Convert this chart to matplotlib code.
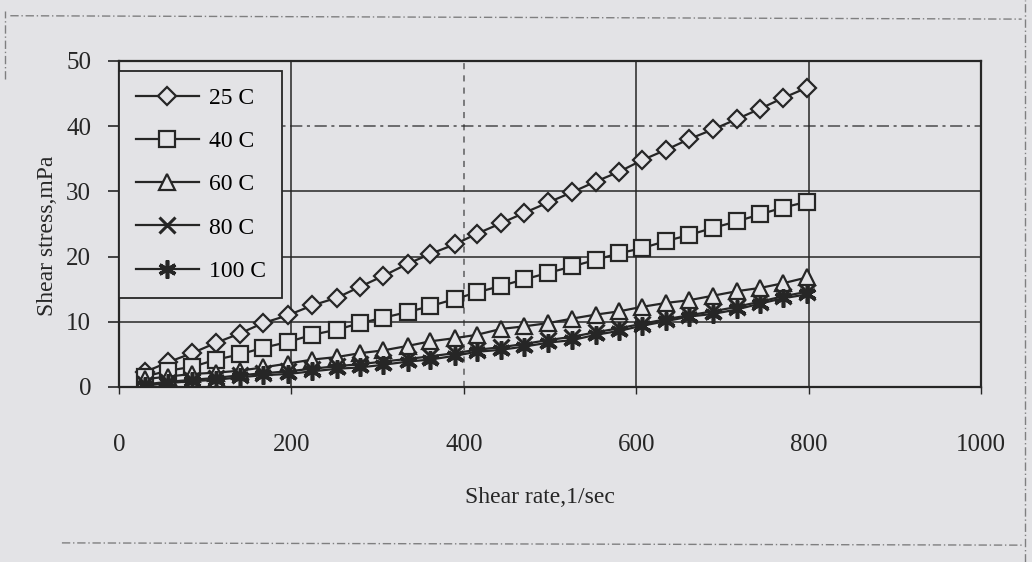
import matplotlib.pyplot as plt
from matplotlib.lines import Line2D

# values
shear_rate = [30, 57, 85, 113, 140, 167, 196, 224, 253, 280, 306, 335, 361, 390, 415,
              443, 470, 498, 526, 553, 580, 607, 635, 661, 689, 717, 744, 770, 798]
stress_25 = [2.3, 3.8, 5.2, 6.8, 8.2, 9.8, 11.0, 12.5, 13.7, 15.4, 17.0, 18.9, 20.4, 21.9, 23.5,
             25.1, 26.7, 28.3, 29.9, 31.5, 33.0, 34.8, 36.4, 38.0, 39.5, 41.1, 42.7, 44.3, 45.9]
stress_40 = [1.6, 2.5, 3.1, 4.2, 5.0, 6.0, 6.9, 8.0, 8.8, 9.8, 10.6, 11.5, 12.4, 13.5, 14.5,
             15.5, 16.5, 17.5, 18.5, 19.5, 20.5, 21.3, 22.4, 23.3, 24.4, 25.4, 26.5, 27.5, 28.4]
stress_60 = [1.2, 1.6, 2.0, 2.2, 2.5, 3.0, 3.6, 4.2, 4.6, 5.2, 5.6, 6.3, 7.0, 7.5, 8.0,
             8.9, 9.3, 9.8, 10.5, 11.1, 11.6, 12.3, 12.9, 13.3, 14.0, 14.7, 15.2, 15.9, 16.8]
stress_80 = [0.4, 0.8, 1.1, 1.4, 1.8, 2.1, 2.4, 2.8, 3.2, 3.5, 3.9, 4.3, 4.7, 5.2, 5.7,
             6.1, 6.6, 7.2, 7.7, 8.4, 9.0, 9.7, 10.4, 11.0, 11.6, 12.3, 13.1, 13.9, 14.6]
stress_100 = [0.2, 0.6, 0.9, 1.1, 1.5, 1.8, 2.0, 2.4, 2.8, 3.0, 3.4, 3.9, 4.2, 4.8, 5.4,
              5.7, 6.2, 6.8, 7.2, 8.0, 8.6, 9.4, 10.1, 10.8, 11.2, 11.9, 12.8, 13.6, 14.2]
labels = ['25 C', '40 C', '60 C', '80 C', '100 C']
x_ticks = [0, 200, 400, 600, 800, 1000]
y_ticks = [0, 10, 20, 30, 40, 50]

paper = '#e3e3e6'
ink = '#262626'

plt.rcParams['font.family'] = ['Liberation Serif', 'DejaVu Serif']

fig = plt.figure(figsize=(10.32, 5.62), dpi=100)
fig.set_facecolor(paper)
ax = fig.add_axes([0.1153, 0.3114, 0.8353, 0.5801])
ax.set_facecolor(paper)

series = [stress_25, stress_40, stress_60, stress_80, stress_100]
markers = ['D', 's', '^', 'x', (6, 2, 0)]
sizes = [9, 12, 12, 11, 13]
mews = [1.6, 1.6, 1.6, 2.2, 2.6]
for ys, lab, m, ms, mew in zip(series, labels, markers, sizes, mews):
    ax.plot(shear_rate, ys, color=ink, lw=1.6, marker=m, ms=ms, mew=mew,
            mfc=paper, mec=ink, label=lab, zorder=3)

ax.set_xlim(0, 1000)
ax.set_ylim(0, 50)
ax.set_xticks(x_ticks)
ax.set_yticks(y_ticks)
ax.tick_params(axis='y', direction='out', length=8, width=1.2, pad=12, labelsize=18, colors=ink)
ax.tick_params(axis='x', direction='out', length=5, width=1.0, pad=29, labelsize=18, colors=ink)
for s in ax.spines.values():
    s.set_color(ink)
    s.set_linewidth(1.6)

ax.grid(True, color=ink, lw=1.1, zorder=1)
ax.get_ygridlines()[4].set_linestyle((0, (8, 3, 2, 3)))
ax.get_ygridlines()[4].set_alpha(0.8)
ax.get_xgridlines()[2].set_linestyle((0, (4, 4)))
ax.get_xgridlines()[2].set_alpha(0.7)

leg = ax.legend(loc='upper left', bbox_to_anchor=(0.0, 0.97), borderaxespad=0,
                fontsize=17, frameon=True, fancybox=False, edgecolor=ink,
                facecolor=paper, framealpha=1, handlelength=2.7, handletextpad=0.4,
                labelspacing=0.92, borderpad=0.7)
leg.get_frame().set_linewidth(1.3)

fig.text(0.523, 0.114, 'Shear rate,1/sec', ha='center', va='center', fontsize=17, color=ink)
fig.text(0.046, 0.58, 'Shear stress,mPa', ha='center', va='center', rotation=90,
         fontsize=17, color=ink)

# dashed page frame of the scan
frame_style = dict(color='#555555', lw=1.0, ls=(0, (6, 2, 1, 2)), alpha=0.7)
fig.add_artist(Line2D([0.01, 0.99], [0.972, 0.966], transform=fig.transFigure, **frame_style))
fig.add_artist(Line2D([0.06, 0.99], [0.034, 0.030], transform=fig.transFigure, **frame_style))
fig.add_artist(Line2D([0.993, 0.993], [0.0, 1.0], transform=fig.transFigure, **frame_style))
fig.add_artist(Line2D([0.005, 0.005], [0.86, 0.98], transform=fig.transFigure, **frame_style))

fig.savefig('out.png', dpi=100, facecolor=paper)
